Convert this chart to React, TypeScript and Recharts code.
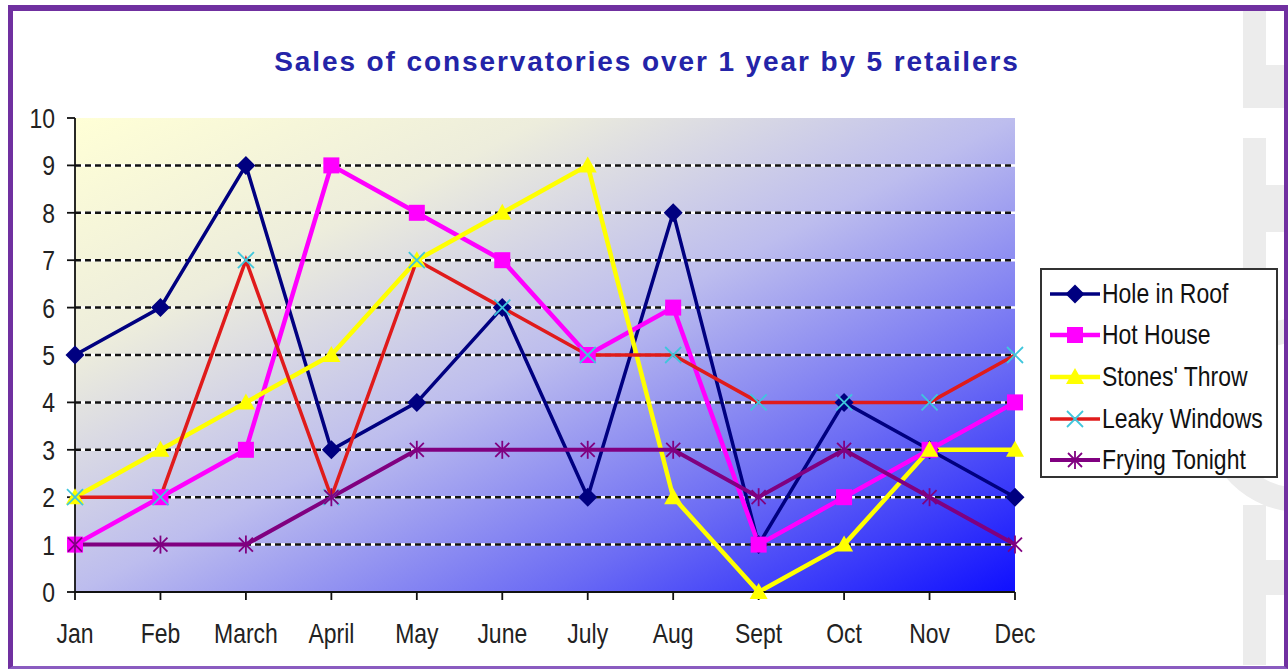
import React from 'react';
import { LineChart, Line, XAxis, YAxis, CartesianGrid, ReferenceLine } from 'recharts';

const months = ['Jan', 'Feb', 'March', 'April', 'May', 'June', 'July', 'Aug', 'Sept', 'Oct', 'Nov', 'Dec'];
const holeInRoof = [5, 6, 9, 3, 4, 6, 2, 8, 1, 4, 3, 2];
const hotHouse = [1, 2, 3, 9, 8, 7, 5, 6, 1, 2, 3, 4];
const stonesThrow = [2, 3, 4, 5, 7, 8, 9, 2, 0, 1, 3, 3];
const leakyWindows = [2, 2, 7, 2, 7, 6, 5, 5, 4, 4, 4, 5];
const fryingTonight = [1, 1, 1, 2, 3, 3, 3, 3, 2, 3, 2, 1];
const yTicks = [0, 1, 2, 3, 4, 5, 6, 7, 8, 9, 10];
const gridValues = [1, 2, 3, 4, 5, 6, 7, 8, 9];

const data = months.map((m, i) => ({
  month: m,
  hole: holeInRoof[i],
  hot: hotHouse[i],
  stones: stonesThrow[i],
  leaky: leakyWindows[i],
  frying: fryingTonight[i],
}));

const sans = "'Liberation Sans', Arial, sans-serif";
const squeeze = 0.82; // the original labels use a condensed face

type MarkerKind = 'diamond' | 'square' | 'triangle' | 'cross' | 'star';

const Marker = ({ kind, cx, cy, color }: { kind: MarkerKind; cx: number; cy: number; color: string }) => {
  if (kind === 'diamond') {
    return <path d={`M${cx},${cy - 9.5}L${cx + 9.5},${cy}L${cx},${cy + 9.5}L${cx - 9.5},${cy}Z`} fill={color} />;
  }
  if (kind === 'square') {
    return <rect x={cx - 8} y={cy - 8} width={16} height={16} fill={color} />;
  }
  if (kind === 'triangle') {
    return <path d={`M${cx},${cy - 9}L${cx + 9},${cy + 7}L${cx - 9},${cy + 7}Z`} fill={color} />;
  }
  if (kind === 'cross') {
    return (
      <g stroke={color} strokeWidth={1.8}>
        <line x1={cx - 8} y1={cy - 8} x2={cx + 8} y2={cy + 8} />
        <line x1={cx - 8} y1={cy + 8} x2={cx + 8} y2={cy - 8} />
      </g>
    );
  }
  return (
    <g stroke={color} strokeWidth={1.8}>
      <line x1={cx - 7} y1={cy - 7} x2={cx + 7} y2={cy + 7} />
      <line x1={cx - 7} y1={cy + 7} x2={cx + 7} y2={cy - 7} />
      <line x1={cx} y1={cy - 9} x2={cx} y2={cy + 9} />
    </g>
  );
};

const series = [
  { key: 'hole', name: 'Hole in Roof', color: '#000080', marker: 'diamond' as MarkerKind, markerColor: '#000080', width: 3.5 },
  { key: 'hot', name: 'Hot House', color: '#ff00ff', marker: 'square' as MarkerKind, markerColor: '#ff00ff', width: 4.5 },
  { key: 'stones', name: "Stones' Throw", color: '#ffff00', marker: 'triangle' as MarkerKind, markerColor: '#ffff00', width: 4.5 },
  { key: 'leaky', name: 'Leaky Windows', color: '#e01b1b', marker: 'cross' as MarkerKind, markerColor: '#3fc6dc', width: 3.5 },
  { key: 'frying', name: 'Frying Tonight', color: '#800080', marker: 'star' as MarkerKind, markerColor: '#800080', width: 4 },
];

const XTick = ({ x, y, payload }: any) => (
  <text
    transform={`translate(${x},${y}) scale(${squeeze},1)`}
    textAnchor="middle"
    dy="0.72em"
    fill="#222"
    fontSize={28}
    fontFamily={sans}
  >
    {payload.value}
  </text>
);

const YTick = ({ x, y, payload }: any) => (
  <text
    transform={`translate(${x},${y}) scale(${squeeze},1)`}
    textAnchor="end"
    dy="0.36em"
    fill="#222"
    fontSize={28}
    fontFamily={sans}
  >
    {payload.value}
  </text>
);

const LegendBox = () => (
  <div
    style={{
      position: 'absolute',
      left: 1040,
      top: 268,
      width: 238,
      height: 210,
      boxSizing: 'border-box',
      border: '2px solid #333',
      background: '#fff',
      paddingTop: 3,
    }}
  >
    {series.map((s) => (
      <div key={s.key} style={{ display: 'flex', alignItems: 'center', height: 41.6, whiteSpace: 'nowrap' }}>
        <svg width={54} height={20} style={{ marginLeft: 6, flex: 'none' }}>
          <line x1={2} y1={10} x2={52} y2={10} stroke={s.color} strokeWidth={s.width} />
          <Marker kind={s.marker} cx={27} cy={10} color={s.markerColor} />
        </svg>
        <span
          style={{
            display: 'inline-block',
            fontFamily: sans,
            fontSize: 28,
            color: '#111',
            transform: `scaleX(${squeeze})`,
            transformOrigin: 'left center',
          }}
        >
          {s.name}
        </span>
      </div>
    ))}
  </div>
);

const Decorations = () => (
  <svg width={1288} height={670} style={{ position: 'absolute', left: 0, top: 0 }}>
    <g fill="#ececec">
      <rect x={1243} y={11} width={23} height={97} />
      <rect x={1266} y={65} width={18} height={43} />
      <rect x={1243} y={138} width={23} height={162} />
      <rect x={1266} y={185} width={18} height={47} />
      <rect x={1243} y={505} width={23} height={160} />
      <rect x={1266} y={560} width={18} height={35} />
    </g>
    <path d="M1300,330 A85,85 0 0 0 1300,500" fill="none" stroke="#ececec" strokeWidth={24} />
  </svg>
);

const App = () => {
  return (
    <div style={{ position: 'absolute', left: 0, top: 0, width: 1288, height: 670, background: '#fff', overflow: 'hidden' }}>
      <Decorations />
      <div
        style={{
          position: 'absolute',
          left: 8,
          top: 5,
          width: 1280,
          height: 664,
          boxSizing: 'border-box',
          borderTop: '6px solid #7030a0',
          borderLeft: '5px solid #7030a0',
          borderRight: '4px solid #7030a0',
          borderBottom: '3px solid #8a5cc0',
        }}
      />
      <div
        style={{
          position: 'absolute',
          left: 0,
          top: 47,
          width: 1294,
          textAlign: 'center',
          fontFamily: sans,
          fontWeight: 'bold',
          fontSize: 28,
          lineHeight: '30px',
          color: '#2424a8',
          letterSpacing: 1.9,
          whiteSpace: 'nowrap',
        }}
      >
        Sales of conservatories over 1 year by 5 retailers
      </div>
      <div style={{ position: 'absolute', left: 0, top: 0 }}>
        <LineChart width={1288} height={670} data={data} margin={{ top: 118, right: 273, bottom: 28, left: 15 }}>
          <defs>
            <linearGradient id="plotBg" x1="0" y1="0" x2="1" y2="1">
              <stop offset="0%" stopColor="#ffffd6" />
              <stop offset="25%" stopColor="#ededdc" />
              <stop offset="50%" stopColor="#bdbdee" />
              <stop offset="75%" stopColor="#6c6cf4" />
              <stop offset="100%" stopColor="#0f0fff" />
            </linearGradient>
          </defs>
          <CartesianGrid horizontal={false} vertical={false} fill="url(#plotBg)" fillOpacity={1} />
          <XAxis
            dataKey="month"
            height={50}
            interval={0}
            axisLine={{ stroke: '#111', strokeWidth: 1.8 }}
            tickLine={{ stroke: '#111', strokeWidth: 1.8 }}
            tickSize={8}
            tickMargin={23}
            tick={<XTick />}
          />
          <YAxis
            width={60}
            domain={[0, 10]}
            ticks={yTicks}
            interval={0}
            axisLine={{ stroke: '#111', strokeWidth: 1.8 }}
            tickLine={{ stroke: '#111', strokeWidth: 1.8 }}
            tickSize={8}
            tickMargin={12}
            tick={<YTick />}
          />
          {gridValues.map((v) => (
            <ReferenceLine key={`w${v}`} y={v} stroke="#ffffff" strokeWidth={2.5} />
          ))}
          {gridValues.map((v) => (
            <ReferenceLine key={`b${v}`} y={v} stroke="#111" strokeWidth={2.5} strokeDasharray="6 4" />
          ))}
          {series.map((s) => (
            <Line
              key={s.key}
              type="linear"
              dataKey={s.key}
              name={s.name}
              stroke={s.color}
              strokeWidth={s.width}
              isAnimationActive={false}
              activeDot={false}
              dot={(p: any) => <Marker key={`${s.key}-${p.index}`} kind={s.marker} cx={p.cx} cy={p.cy} color={s.markerColor} />}
            />
          ))}
        </LineChart>
      </div>
      <LegendBox />
    </div>
  );
};

export default App;
